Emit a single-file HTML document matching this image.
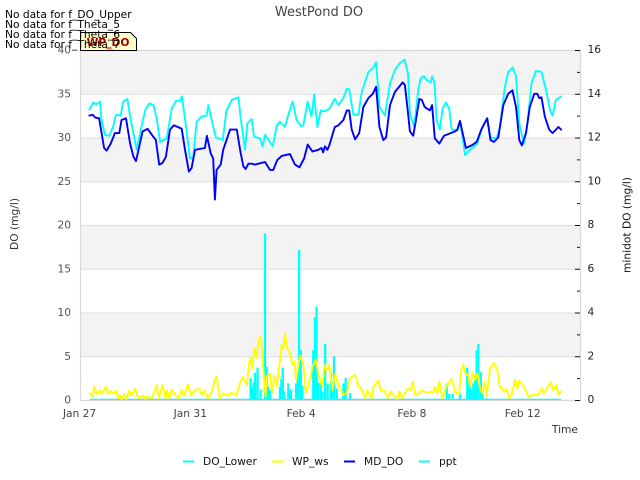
<!DOCTYPE html>
<html>
<head>
<meta charset="utf-8">
<title>WestPond DO</title>
<style>
html,body{margin:0;padding:0;background:#fff;}
svg{display:block;}
text{font-family:"DejaVu Sans",sans-serif;}
</style>
</head>
<body>
<svg id="chart" xmlns="http://www.w3.org/2000/svg" width="640" height="480" viewBox="0 0 640 480">
  <g id="bands"></g>
  <g id="grid"></g>
  <g id="series"></g>
  <rect x="80.5" y="50.5" width="500" height="350" fill="none" stroke="#d8d8d8" stroke-width="1.2"/>
  <g id="axes"></g>
  <text x="319" y="16" text-anchor="middle" font-size="13" fill="#444">WestPond DO</text>
  <text transform="translate(18,224) rotate(-90)" text-anchor="middle" font-size="10.67" fill="#333">DO (mg/l)</text>
  <text transform="translate(630.5,225) rotate(-90)" text-anchor="middle" font-size="10.67" fill="#111">minidot DO (mg/l)</text>
  <text x="578" y="433" text-anchor="end" font-size="10.67" fill="#333">Time</text>
  <path d="M80.5 50.5V32.5H130.5L136.5 38.5V50.5Z" fill="#ffffcc" stroke="#000" stroke-width="1"/>
  <text x="108" y="46" text-anchor="middle" font-size="10.67" font-weight="bold" fill="#a00000">WP_DO</text>
  <g font-size="10.67" fill="#000">
    <text x="5" y="18">No data for f_DO_Upper</text>
    <text x="5" y="28">No data for f_Theta_5</text>
    <text x="5" y="38">No data for f_Theta_6</text>
    <text x="5" y="48">No data for f_Theta_7</text>
  </g>
  <g font-size="10.67" fill="#111">
    <line x1="183" x2="194" y1="461.5" y2="461.5" stroke="#00ffff" stroke-width="2"/>
    <text x="203" y="465">DO_Lower</text>
    <line x1="272" x2="283" y1="461.5" y2="461.5" stroke="#ffff00" stroke-width="2"/>
    <text x="292" y="465">WP_ws</text>
    <line x1="344" x2="355" y1="461.5" y2="461.5" stroke="#0000ff" stroke-width="2"/>
    <text x="364" y="465">MD_DO</text>
    <line x1="419" x2="430" y1="461.5" y2="461.5" stroke="#00ffff" stroke-width="2"/>
    <text x="439" y="465">ppt</text>
  </g>
</svg>
<script>
const xTickDays = [0, 4, 8, 12, 16];
const xTickLabels = ["Jan 27", "Jan 31", "Feb 4", "Feb 8", "Feb 12"];
const leftTicks = [0, 5, 10, 15, 20, 25, 30, 35, 40];
const rightMajorTicks = [0, 2, 4, 6, 8, 10, 12, 14, 16];
const rightMinorTicks = [1, 3, 5, 7, 9, 11, 13, 15];

const doLowerDays = [0.34,0.48,0.58,0.72,0.78,0.9,1.06,1.2,1.3,1.47,1.56,1.71,1.83,2.05,2.23,2.35,2.5,2.65,2.77,2.89,3.13,3.31,3.47,3.61,3.68,3.83,3.97,4.09,4.21,4.39,4.57,4.63,4.81,4.91,5.15,5.29,5.48,5.72,5.8,5.96,6.04,6.2,6.28,6.5,6.59,6.69,6.96,7.1,7.22,7.4,7.52,7.68,7.82,7.98,8.06,8.22,8.36,8.45,8.57,8.69,8.85,9,9.2,9.33,9.51,9.63,9.72,9.87,10.05,10.17,10.41,10.57,10.69,10.81,11.01,11.19,11.37,11.55,11.72,11.84,11.91,12.06,12.21,12.3,12.42,12.51,12.66,12.72,12.8,12.87,12.99,13.09,13.21,13.33,13.42,13.62,13.72,13.81,13.9,14.08,14.34,14.5,14.7,14.82,15.04,15.16,15.34,15.46,15.62,15.74,15.86,16.03,16.15,16.3,16.46,16.66,16.84,16.97,17.06,17.18,17.37];
const doLowerValues = [33.2,34,33.8,34.1,32,30.3,30.2,31.3,32.6,32.5,34.1,34.4,32,28.6,31.4,33.1,33.9,33.7,32.2,29.5,29.9,33.3,34.2,34.2,34.7,31.2,27.6,27.8,31.8,32.4,32.5,33.7,31.2,30,29.7,33.1,34.3,34.6,32.2,28.6,31.6,32.1,30.1,29.9,29,30.3,29,31.4,31.8,31.2,32.6,34.1,32,31.3,31.4,34.1,32.4,34.9,31.2,33.1,33,33.3,34.4,33.7,34.5,35.6,35.5,32.6,32.6,35.2,37.5,37.9,38.6,33.5,32.5,36.2,37.7,38.5,38.9,37.3,32.8,31.2,35.4,36.8,37,36.6,36.3,37,36.2,32,30.9,33.3,34,33.3,30.9,30.8,31.8,30.1,28,28.6,29.3,30.9,32.2,30,29.9,31.2,35.8,37.5,38,37,31.6,29.3,31.6,36.2,37.6,37.5,35.2,33.1,32.5,34.3,34.7];

const mdDoDays = [0.34,0.46,0.54,0.69,0.78,0.87,0.96,1.11,1.26,1.42,1.5,1.66,1.81,1.93,2.02,2.14,2.26,2.44,2.62,2.74,2.86,2.98,3.1,3.25,3.39,3.67,3.79,3.93,4.03,4.15,4.51,4.58,4.72,4.81,4.87,4.93,5.08,5.17,5.42,5.66,5.8,5.9,5.98,6.08,6.2,6.32,6.44,6.68,6.86,6.98,7.12,7.28,7.58,7.76,7.92,8.09,8.22,8.39,8.6,8.72,8.78,8.84,8.93,9,9.2,9.33,9.51,9.63,9.72,9.81,9.93,10.08,10.23,10.41,10.57,10.69,10.81,10.95,11.05,11.19,11.37,11.65,11.73,11.84,11.91,12.03,12.13,12.25,12.34,12.44,12.63,12.71,12.81,12.97,13.14,13.54,13.62,13.72,13.84,13.93,14.14,14.32,14.5,14.7,14.82,14.94,15.1,15.28,15.46,15.61,15.74,15.86,15.95,16.1,16.24,16.4,16.51,16.58,16.66,16.78,16.94,17.06,17.27,17.37];
const mdDoValues = [13,13.04,12.92,12.88,12.2,11.52,11.4,11.72,12.2,12.2,12.8,12.88,11.72,11.12,10.92,11.6,12.28,12.4,12.08,11.88,10.76,10.84,11.12,12.36,12.56,12.4,11.44,10.44,10.6,11.44,11.52,12.08,11.28,11.04,9.16,10.52,10.76,11.44,12.36,12.36,11.28,10.68,10.56,10.8,10.8,10.76,10.8,10.88,10.52,10.52,10.96,11.16,11.24,10.76,10.64,11.04,11.68,11.36,11.44,11.52,11.32,11.6,11.44,11.64,12.48,12.56,12.8,13.24,13.24,12.36,11.92,12.2,13.4,13.8,14,14.32,12.48,11.88,12,13.48,14.08,14.52,14.4,13.12,12.28,12.08,12.8,13.76,13.72,13.4,13.24,13.48,11.96,11.72,12.08,12.28,12.36,12.76,12.04,11.52,11.64,11.8,12.4,12.88,11.88,11.8,12,13.48,14,14.16,13.4,11.88,11.64,12.2,13.4,14,14,13.8,13.84,12.96,12.36,12.2,12.48,12.36];

const windDays = [0.34,0.46,0.51,0.6,0.72,0.78,0.94,1.02,1.11,1.2,1.3,1.38,1.44,1.5,1.62,1.68,1.78,1.87,1.99,2.11,2.29,2.35,2.41,2.59,2.71,2.77,2.85,2.97,3.09,3.13,3.22,3.31,3.43,3.55,3.67,3.75,3.89,4.01,4.15,4.31,4.39,4.48,4.63,4.75,4.87,4.93,5.05,5.17,5.35,5.48,5.63,5.75,5.87,5.96,6.02,6.1,6.17,6.22,6.29,6.38,6.44,6.53,6.62,6.7,6.74,6.86,6.94,7.02,7.1,7.22,7.28,7.34,7.4,7.46,7.58,7.67,7.74,7.8,7.94,8.06,8.15,8.27,8.39,8.52,8.6,8.75,8.82,8.91,9,9.11,9.21,9.33,9.51,9.63,9.75,9.93,10.05,10.11,10.21,10.29,10.37,10.53,10.59,10.77,10.86,10.98,11.13,11.22,11.31,11.46,11.53,11.64,11.73,11.85,11.94,12.01,12.1,12.25,12.34,12.52,12.76,12.82,12.9,12.97,13.09,13.21,13.3,13.42,13.54,13.68,13.76,13.84,13.94,14.02,14.08,14.17,14.26,14.35,14.44,14.53,14.62,14.68,14.8,14.95,15.07,15.16,15.34,15.4,15.5,15.58,15.71,15.79,15.86,16,16.13,16.19,16.37,16.55,16.67,16.75,16.85,17,17.07,17.19,17.27,17.37];
const windValues = [0.76,0.38,1.5,0.7,1.1,0.7,1.5,0.7,1,0.76,1.07,0.2,0.57,0.1,0.7,0.1,1.07,0.5,1.33,0.2,0.5,0.1,0.4,0.2,1.1,1.7,0.2,1.7,0.2,1.1,0.2,1.2,0.6,0.2,1.1,0.5,1.8,0.5,1.1,1.3,0.6,1.07,0.2,0.95,2.3,2.7,0.2,0.76,0.5,0.84,0.5,1.7,2.6,2.1,1.7,4.2,4.8,3.6,5.9,4.8,6.9,7.2,3.4,0.4,2.7,3,0.8,2.8,1.5,4.6,6.3,5.9,7.6,6.1,5.3,4,4.4,2.3,5.1,4.2,0.8,1.9,3.8,4.6,3,1.5,4,3.4,4,1.1,3,1.7,0.6,0.8,2.5,2.9,1.5,1.5,0.95,0.2,1.1,0.2,1.45,2.2,1.1,1.1,0.2,0.95,0.57,0.1,0.95,0.2,0.84,1.33,1.1,2.1,0.57,0.76,1.1,0.84,0.95,1.5,0.76,2.1,0.2,1.5,1.9,2.4,0.95,0.57,3.4,4,2.86,2.86,1.5,3.1,2.3,3.05,1.33,0.76,2.1,0.4,3.6,4.2,3.4,1.5,0.95,1.33,0.2,0.57,2.3,1.33,2.2,1.7,0.76,0.38,0.57,0.57,1.33,0.76,1.33,2,1.1,1.7,0.57,1];

const pptDays = [6.16,6.22,6.27,6.32,6.41,6.52,6.68,6.74,6.8,6.86,7.22,7.27,7.32,7.37,7.52,7.57,7.62,7.8,7.86,7.91,7.97,8.02,8.42,8.48,8.54,8.6,8.69,8.75,8.85,8.94,9.06,9.12,9.17,9.27,9.51,9.59,9.75,13.24,13.33,13.45,13.72,13.98,14.03,14.08,14.14,14.2,14.26,14.32,14.38,14.47,14.53,14.68];
const pptValues = [2.5,1.4,2,3.1,3.7,1.2,19.05,3.8,1.5,1.1,1.5,2.4,3.7,1,1.9,1,1.2,1.9,3.2,17.15,5.7,1.6,5.7,9.45,10.7,2,1.9,1,6.4,1.9,3.1,1.6,5,1.3,1.9,2.5,0.8,1.9,0.7,0.7,0.7,3.7,2.5,1.9,1.2,1.9,2.8,5.7,6.4,3.2,0.8,0.2];

const NS = "http://www.w3.org/2000/svg";
const x = d => 80 + d * 27.7;
const yLeft = v => 400 - v * 8.75;
const yRight = v => 400 - v * 21.875;

function make(tag, attrs, parent) {
  const el = document.createElementNS(NS, tag);
  for (const k in attrs) el.setAttribute(k, attrs[k]);
  parent.appendChild(el);
  return el;
}

const bands = document.getElementById("bands");
const grid = document.getElementById("grid");
const axes = document.getElementById("axes");
const series = document.getElementById("series");

for (let i = 0; i < leftTicks.length - 1; i++) {
  if (i % 2 === 1) {
    const band = make("rect", {x: 80, y: yLeft(leftTicks[i + 1]), width: 500, height: yLeft(leftTicks[i]) - yLeft(leftTicks[i + 1]), fill: "#f3f3f3"}, bands);
    
    
  }
}

leftTicks.forEach(t => {
  const line = make("line", {x1: 80, x2: 580, y1: yLeft(t) + 0.5, y2: yLeft(t) + 0.5, stroke: "#e2e2e2", "stroke-width": 1.2}, grid);
  
  
  const label = make("text", {x: 71, y: yLeft(t) + 3.5, "text-anchor": "end", "font-size": 10.67, fill: "#555"}, axes);
  
  
  label.textContent = t;
});

rightMajorTicks.forEach(t => {
  const tick = make("line", {x1: 575, x2: 580, y1: yRight(t) + 0.5, y2: yRight(t) + 0.5, stroke: "#111", "stroke-width": 1}, axes);
  
  
  const label = make("text", {x: 587.5, y: yRight(t) + 3, "font-size": 10.67, fill: "#222"}, axes);
  
  
  label.textContent = t;
});

rightMinorTicks.forEach(t => {
  const tick = make("line", {x1: 577, x2: 580, y1: yRight(t) + 0.5, y2: yRight(t) + 0.5, stroke: "#111", "stroke-width": 1}, axes);
  
  
});

xTickDays.forEach((d, i) => {
  const label = make("text", {x: x(d) - 0.5, y: 417, "text-anchor": "middle", "font-size": 10.67, fill: "#444"}, axes);
  
  
  label.textContent = xTickLabels[i];
});

function pointsOf(days, values, yScale) {
  return days.map((d, i) => x(d).toFixed(1) + "," + yScale(values[i]).toFixed(1)).join(" ");
}

const pptGroup = make("g", {}, series);


const pptBase = make("line", {x1: x(doLowerDays[0]), x2: x(mdDoDays[mdDoDays.length - 1]), y1: yLeft(0) - 0.5, y2: yLeft(0) - 0.5, stroke: "#00ffff", "stroke-width": 1.5}, pptGroup);


pptDays.forEach((d, i) => {
  const bar = make("line", {x1: x(d), x2: x(d), y1: yLeft(0), y2: yLeft(pptValues[i]), stroke: "#00ffff", "stroke-width": 2.3}, pptGroup);
  
  
});

const lineStyle = {fill: "none", "stroke-width": 1.9, "stroke-linejoin": "round", "stroke-linecap": "round"};

const doLowerLine = make("polyline", Object.assign({points: pointsOf(doLowerDays, doLowerValues, yLeft), stroke: "#00ffff"}, lineStyle), series);



const mdDoLine = make("polyline", Object.assign({points: pointsOf(mdDoDays, mdDoValues, yRight), stroke: "#0000ff"}, lineStyle), series);



const windLine = make("polyline", Object.assign({points: pointsOf(windDays, windValues, yLeft), stroke: "#ffff00"}, lineStyle), series);


</script>
</body>
</html>
